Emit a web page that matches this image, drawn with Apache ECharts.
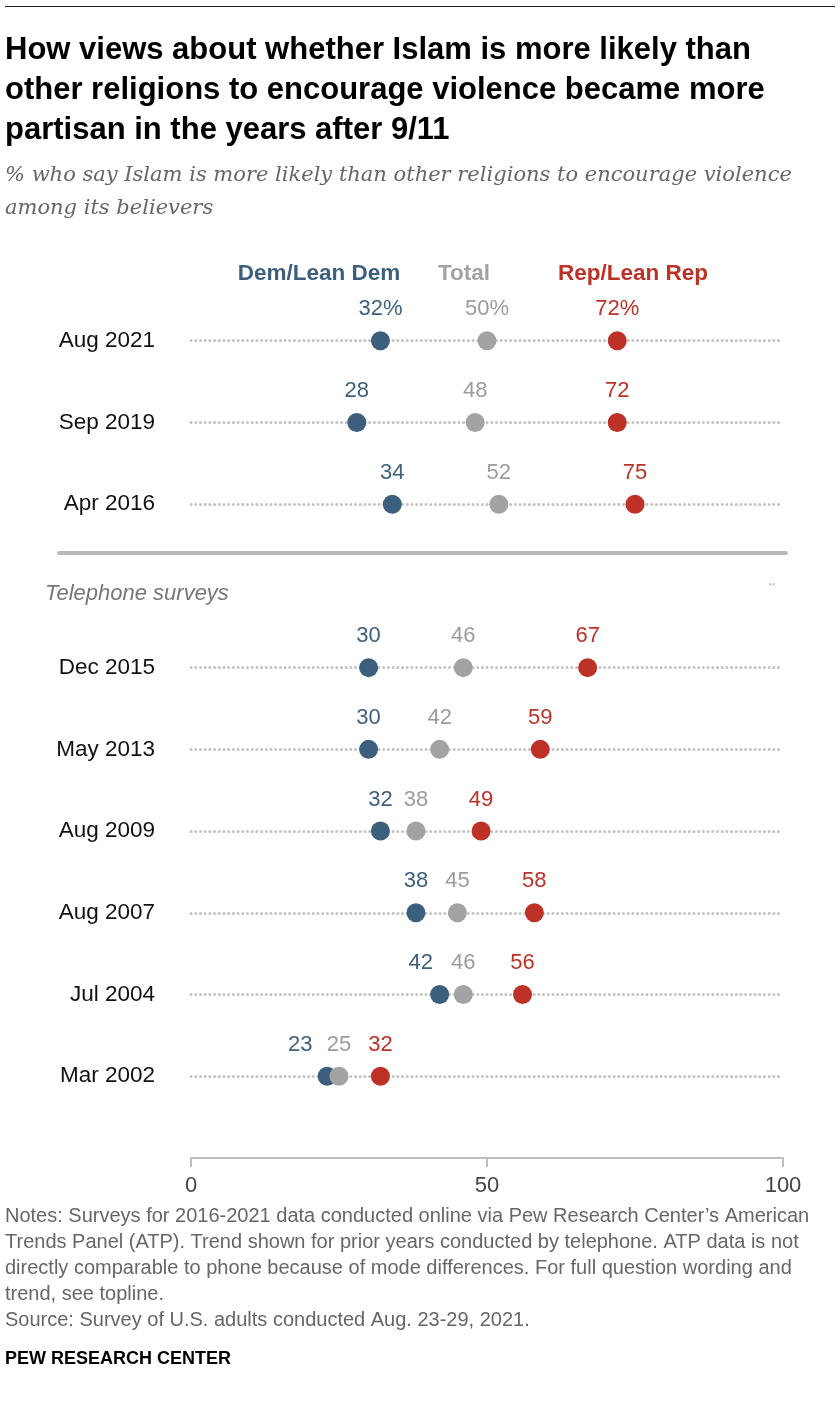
<!DOCTYPE html>
<html>
<head>
<meta charset="utf-8">
<script src="https://cdn.jsdelivr.net/npm/echarts@6/dist/echarts.min.js"></script>
<style>
  html, body { margin: 0; padding: 0; background: #fff; }
  #chart { width: 840px; height: 1408px; }
</style>
</head>
<body>
<div id="chart"></div>
<script>
// 行标签（索引 3 是分隔线留出的空行）
const rowLabels = ['Aug 2021', 'Sep 2019', 'Apr 2016', '', 'Dec 2015', 'May 2013', 'Aug 2009', 'Aug 2007', 'Jul 2004', 'Mar 2002'];
const rowIndex = [0, 1, 2, 4, 5, 6, 7, 8, 9];
const demValues = [32, 28, 34, 30, 30, 32, 38, 42, 23];
const totalValues = [50, 48, 52, 46, 42, 38, 45, 46, 25];
const repValues = [72, 72, 75, 67, 59, 49, 58, 56, 32];
const xTicks = [0, 50, 100];

const DEM = '#3c5f7e';
const TOTAL = '#a3a3a3';
const REP = '#bd3127';
const SANS = '"Liberation Sans", Arial, sans-serif';

// 点太挤的两行，把民主党标签往左挪一点
const demNudge = { 7: -19, 8: -27 };

const chart = echarts.init(document.getElementById('chart'));

function makeSeries(name, values, color, labelColor, nudge) {
  return {
    name: name,
    type: 'scatter',
    symbolSize: 19,
    itemStyle: { color: color, opacity: 1 },
    z: 5,
    data: values.map((v, i) => {
      const item = { value: [v, rowIndex[i]] };
      if (nudge && nudge[i]) item.label = { offset: [nudge[i], 0] };
      return item;
    }),
    label: {
      show: true,
      position: 'top',
      distance: 11,
      fontFamily: SANS,
      fontSize: 22,
      color: labelColor,
      formatter: p => p.dataIndex === 0 ? p.value[0] + '%' : String(p.value[0])
    }
  };
}

const option = {
  animation: false,
  grid: { left: 191, right: 57, top: 259, height: 899 },
  xAxis: {
    type: 'value',
    position: 'bottom',
    min: 0,
    max: 100,
    interval: 50,
    axisLine: { show: true, onZero: false, lineStyle: { color: '#bdbdbd', width: 2 } },
    axisTick: { show: true, length: 9, lineStyle: { color: '#bdbdbd', width: 2 } },
    splitLine: { show: false },
    axisLabel: {
      margin: 17,
      fontFamily: SANS,
      fontSize: 22,
      color: '#444',
      formatter: v => xTicks.indexOf(v) >= 0 ? String(v) : ''
    }
  },
  yAxis: {
    type: 'value',
    inverse: true,
    min: -1,
    max: 10,
    interval: 1,
    axisLine: { show: false },
    axisTick: { show: false },
    splitLine: { show: false },
    axisLabel: {
      margin: 36,
      fontFamily: SANS,
      fontSize: 22.5,
      color: '#111',
      formatter: v => (v >= 0 && v < rowLabels.length) ? rowLabels[v] : ''
    }
  },
  series: [
    {
      type: 'scatter',
      data: [],
      silent: true,
      markLine: {
        silent: true,
        symbol: 'none',
        label: { show: false },
        lineStyle: { color: '#c4c4c4', width: 3, type: [0.1, 4.6], cap: 'round' },
        data: rowIndex.map(r => ({ yAxis: r }))
      }
    },
    makeSeries('Dem/Lean Dem', demValues, DEM, DEM, demNudge),
    makeSeries('Total', totalValues, TOTAL, '#9c9c9c'),
    makeSeries('Rep/Lean Rep', repValues, REP, REP)
  ],
  graphic: [
    { type: 'line', shape: { x1: 5, y1: 6.5, x2: 835, y2: 6.5 }, style: { stroke: '#222', lineWidth: 1 } },
    {
      type: 'text', left: 5, top: 30,
      style: {
        text: 'How views about whether Islam is more likely than\nother religions to encourage violence became more\npartisan in the years after 9/11',
        font: 'bold 31px ' + SANS, lineHeight: 40, fill: '#000'
      }
    },
    {
      type: 'text', left: 5, top: 159,
      style: {
        text: '% who say Islam is more likely than other religions to encourage violence\namong its believers',
        font: 'italic 21px "DejaVu Serif", serif', lineHeight: 33, fill: '#666'
      }
    },
    { type: 'text', x: 319, y: 274, style: { text: 'Dem/Lean Dem', font: 'bold 22.5px ' + SANS, fill: DEM, align: 'center', verticalAlign: 'middle' } },
    { type: 'text', x: 464, y: 274, style: { text: 'Total', font: 'bold 22.5px ' + SANS, fill: TOTAL, align: 'center', verticalAlign: 'middle' } },
    { type: 'text', x: 633, y: 274, style: { text: 'Rep/Lean Rep', font: 'bold 22.5px ' + SANS, fill: REP, align: 'center', verticalAlign: 'middle' } },
    { type: 'line', shape: { x1: 59, y1: 553, x2: 786, y2: 553 }, style: { stroke: '#bababa', lineWidth: 4, lineCap: 'round' } },
    { type: 'text', x: 45, y: 594, style: { text: 'Telephone surveys', font: 'italic 22px ' + SANS, fill: '#777', verticalAlign: 'middle' } },
    { type: 'text', x: 772, y: 585, style: { text: '··', font: 'bold 10px ' + SANS, fill: '#aaa', align: 'center', verticalAlign: 'middle' } },
    {
      type: 'text', left: 5, top: 1203,
      style: {
        text: 'Notes: Surveys for 2016-2021 data conducted online via Pew Research Center\u2019s American\nTrends Panel (ATP). Trend shown for prior years conducted by telephone. ATP data is not\ndirectly comparable to phone because of mode differences. For full question wording and\ntrend, see topline.\nSource: Survey of U.S. adults conducted Aug. 23-29, 2021.',
        font: '20px ' + SANS, lineHeight: 26, fill: '#666'
      }
    },
    { type: 'text', left: 5, top: 1350, style: { text: 'PEW RESEARCH CENTER', font: 'bold 18px ' + SANS, fill: '#000' } }
  ]
};

chart.setOption(option);
</script>
</body>
</html>
